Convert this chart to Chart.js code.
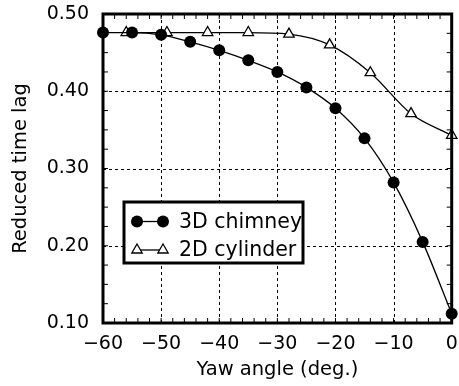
<!DOCTYPE html>
<html>
<head>
<meta charset="utf-8">
<script src="https://cdn.jsdelivr.net/npm/chart.js@4.4.1/dist/chart.umd.min.js"></script>
<style>
  html, body { margin: 0; padding: 0; background: #fff; }
  #wrap { width: 459px; height: 386px; }
</style>
</head>
<body>
<div id="wrap"><canvas id="myChart" width="459" height="386"></canvas></div>
<script>
// data
var chimneyX = [-60, -55, -50, -45, -40, -35, -30, -25, -20, -15, -10, -5, 0];
var chimneyY = [0.476, 0.476, 0.473, 0.464, 0.453, 0.440, 0.425, 0.405, 0.378, 0.339, 0.282, 0.205, 0.112];
var cylinderX = [-56, -49, -42, -35, -28, -21, -14, -7, 0];
var cylinderY = [0.476, 0.476, 0.476, 0.476, 0.474, 0.460, 0.424, 0.371, 0.343];
var seriesNames = ['3D chimney', '2D cylinder'];
var xTicks = [-60, -50, -40, -30, -20, -10, 0];
var yTicks = [0.10, 0.20, 0.30, 0.40, 0.50];

var FONT = '"DejaVu Sans", sans-serif';

function toPoints(xs, ys) {
    return xs.map(function (x, i) { return { x: x, y: ys[i] }; });
}

// drop the label overhang padding so layout.padding alone sets the plot box
function noOverhang(s) {
    s.paddingTop = 0;
    s.paddingBottom = 0;
    s.paddingLeft = 0;
    s.paddingRight = 0;
}

// dashed grid under the data
var gridPlugin = {
    id: 'dashGrid',
    beforeDatasetsDraw: function (chart) {
        var ctx = chart.ctx;
        var a = chart.chartArea;
        var xs = chart.scales.x, ys = chart.scales.y;
        ctx.save();
        ctx.strokeStyle = '#000';
        ctx.lineWidth = 1;
        ctx.setLineDash([3, 3]);
        ctx.beginPath();
        xTicks.slice(1, -1).forEach(function (v) {
            var px = Math.round(xs.getPixelForValue(v)) + 0.5;
            ctx.moveTo(px, a.top); ctx.lineTo(px, a.bottom);
        });
        yTicks.slice(1, -1).forEach(function (v) {
            var py = Math.round(ys.getPixelForValue(v)) + 0.5;
            ctx.moveTo(a.left, py); ctx.lineTo(a.right, py);
        });
        ctx.stroke();
        ctx.restore();
    }
};

// frame, inside minor ticks and the boxed legend
var framePlugin = {
    id: 'frame',
    afterDraw: function (chart) {
        var ctx = chart.ctx;
        var a = chart.chartArea;
        var xs = chart.scales.x, ys = chart.scales.y;
        ctx.save();
        ctx.strokeStyle = '#000';
        ctx.lineWidth = 1;
        ctx.beginPath();
        for (var v = -58; v < 0; v += 2) {
            var px = xs.getPixelForValue(v);
            ctx.moveTo(px, a.bottom); ctx.lineTo(px, a.bottom - 5);
            ctx.moveTo(px, a.top); ctx.lineTo(px, a.top + 5);
        }
        for (var k = 1; k < 16; k++) {
            var py = ys.getPixelForValue(0.1 + k * 0.025);
            ctx.moveTo(a.left, py); ctx.lineTo(a.left + 5, py);
            ctx.moveTo(a.right, py); ctx.lineTo(a.right - 5, py);
        }
        ctx.stroke();

        ctx.lineWidth = 3;
        ctx.strokeRect(a.left, a.top, a.right - a.left, a.bottom - a.top);

        // legend
        var lx = 124, ly = 202, lw = 179, lh = 61;
        ctx.fillStyle = '#fff';
        ctx.fillRect(lx, ly, lw, lh);
        ctx.lineWidth = 3;
        ctx.strokeRect(lx, ly, lw, lh);
        var rows = [ly + 19.5, ly + 48];
        ctx.lineWidth = 1.3;
        for (var r = 0; r < 2; r++) {
            var y = rows[r];
            ctx.beginPath();
            ctx.moveTo(137, y); ctx.lineTo(163, y);
            ctx.stroke();
            [137, 163].forEach(function (mx) {
                if (r === 0) {
                    ctx.beginPath();
                    ctx.arc(mx, y, 6, 0, Math.PI * 2);
                    ctx.fillStyle = '#000';
                    ctx.fill();
                } else {
                    ctx.beginPath();
                    ctx.moveTo(mx, y - 6);
                    ctx.lineTo(mx + 5.2, y + 3);
                    ctx.lineTo(mx - 5.2, y + 3);
                    ctx.closePath();
                    ctx.fillStyle = '#fff';
                    ctx.fill();
                    ctx.stroke();
                }
            });
            ctx.fillStyle = '#000';
            ctx.font = '20.5px ' + FONT;
            ctx.textBaseline = 'middle';
            ctx.textAlign = 'left';
            ctx.fillText(seriesNames[r], 179, y + 1);
        }
        ctx.restore();
    }
};

var ctx1 = document.getElementById('myChart').getContext('2d');
var chart1 = new Chart(ctx1, {
    type: 'line',
    data: {
        datasets: [
            {
                label: seriesNames[0],
                data: toPoints(chimneyX, chimneyY),
                borderColor: '#000',
                backgroundColor: '#000',
                borderWidth: 1.3,
                pointStyle: 'circle',
                pointRadius: 6,
                pointBorderWidth: 0,
                cubicInterpolationMode: 'monotone',
                clip: false
            },
            {
                label: seriesNames[1],
                data: toPoints(cylinderX, cylinderY),
                borderColor: '#000',
                backgroundColor: '#fff',
                borderWidth: 1.3,
                pointStyle: 'triangle',
                pointRadius: 6,
                pointBorderWidth: 1.3,
                cubicInterpolationMode: 'monotone',
                clip: false
            }
        ]
    },
    options: {
        responsive: false,
        animation: false,
        layout: { padding: { left: 0, right: 6, top: 14, bottom: 0 } },
        plugins: {
            legend: { display: false },
            tooltip: { enabled: false }
        },
        scales: {
            x: {
                type: 'linear',
                min: -60,
                max: 0,
                afterBuildTicks: function (s) { s.ticks = xTicks.map(function (v) { return { value: v }; }); },
                afterFit: function (s) { s.height = 63; noOverhang(s); },
                ticks: {
                    color: '#000',
                    font: { family: FONT, size: 19 },
                    padding: 10,
                    maxRotation: 0,
                    callback: function (v) { return String(v).replace('-', '\u2212'); }
                },
                grid: { display: false, drawTicks: false },
                border: { display: false },
                title: {
                    display: true,
                    text: 'Yaw angle (deg.)',
                    color: '#000',
                    font: { family: FONT, size: 19.5 },
                    padding: { top: 0, bottom: 4 }
                }
            },
            y: {
                type: 'linear',
                min: 0.1,
                max: 0.5,
                afterBuildTicks: function (s) { s.ticks = yTicks.map(function (v) { return { value: v }; }); },
                afterFit: function (s) { s.width = 103; noOverhang(s); },
                ticks: {
                    color: '#000',
                    font: { family: FONT, size: 19 },
                    padding: 14,
                    callback: function (v) { return Number(v).toFixed(2); }
                },
                grid: { display: false, drawTicks: false },
                border: { display: false },
                title: {
                    display: true,
                    text: 'Reduced time lag',
                    color: '#000',
                    font: { family: FONT, size: 19.5 },
                    padding: { top: 9, bottom: 0 }
                }
            }
        }
    },
    plugins: [gridPlugin, framePlugin]
});
</script>
</body>
</html>
